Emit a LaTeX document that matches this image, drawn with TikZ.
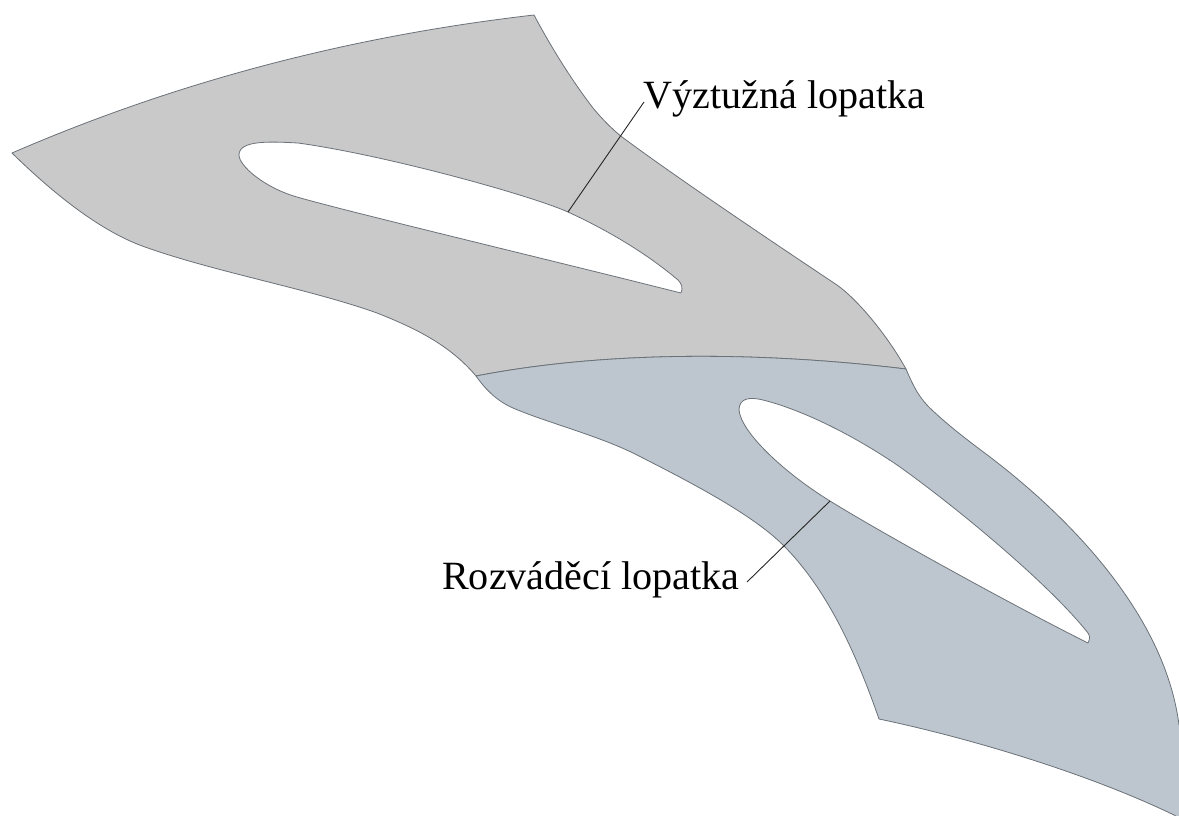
\documentclass[tikz,border=0pt]{standalone}
\usepackage{fontspec}
\setmainfont{Liberation Serif}
\definecolor{graypart}{HTML}{C9C9C9}
\definecolor{bluepart}{HTML}{BDC6CF}
\definecolor{edgeline}{HTML}{6A7177}
\tikzset{
  part/.style={draw=edgeline,line width=0.8pt,line join=round},
  hole/.style={part,fill=white},
  leader/.style={draw=black!85,line width=0.9pt},
  label/.style={inner sep=0pt,anchor=base west,font=\fontsize{40.1}{41}\selectfont}
}
\begin{document}
\begin{tikzpicture}[x=1pt,y=-1pt]
\useasboundingbox (0,0) rectangle (1179,816);
% grey part
\path[part,fill=graypart]
  (12,153) .. controls (185,78) and (360,35) .. (534,15)
  .. controls (550,45) and (570,78) .. (593,108)
  .. controls (603,120) and (612,129) .. (622,137)
  .. controls (680,180) and (780,247) .. (837,285)
  .. controls (858,300) and (887,335) .. (906,369)
  .. controls (765,352) and (610,350) .. (476,376)
  .. controls (450,345) and (415,328) .. (377,313)
  .. controls (310,289) and (215,272) .. (145,247)
  .. controls (105,233) and (60,200) .. (12,153) -- cycle;
\path[hole]
  (681,293) .. controls (683,288) and (682,284) .. (678,280)
  .. controls (645,252) and (605,229) .. (568,212)
  .. controls (530,195) and (385,155) .. (298,143)
  .. controls (270,141.5) and (239,140) .. (239,155)
  .. controls (239,166) and (265,188) .. (297,197)
  .. controls (345,211) and (550,260) .. (681,293) -- cycle;
% blue part
\path[part,fill=bluepart]
  (476,376) .. controls (610,350) and (765,352) .. (906,369)
  .. controls (914,388) and (920,399) .. (932,410)
  .. controls (950,427) and (970,442) .. (990,457)
  .. controls (1070,518) and (1165,615) .. (1179,725)
  -- (1181,726) -- (1181,819) -- (1174,815)
  .. controls (1085,772) and (965,737) .. (879,719)
  .. controls (855,650) and (826,588) .. (783,545)
  .. controls (750,512) and (680,477) .. (637,455)
  .. controls (600,436) and (545,422) .. (513,408)
  .. controls (497,401) and (486,390) .. (476,376) -- cycle;
\path[hole]
  (1088,643) .. controls (1090,639) and (1090,636) .. (1088,633)
  .. controls (1050,585) and (960,510) .. (900,467)
  .. controls (855,436) and (803,410) .. (763,400)
  .. controls (750,396.7) and (739,398) .. (739,410)
  .. controls (741,432) and (783,472) .. (830,501)
  .. controls (880,532) and (1010,604) .. (1088,643) -- cycle;
% labels and leaders
\node[label] (vyztuzna) at (643.5,108) {Výztužná lopatka};
\node[label] (rozvadeci) at (442,589) {Rozváděcí lopatka};
\coordinate (vyztuznaStart) at (644,102);
\coordinate (vyztuznaEnd) at (568,212);
\coordinate (rozvadeciStart) at (747,582);
\coordinate (rozvadeciEnd) at (830,501);
\draw[leader] (vyztuznaStart) -- (vyztuznaEnd);
\draw[leader] (rozvadeciStart) -- (rozvadeciEnd);
\end{tikzpicture}
\end{document}
